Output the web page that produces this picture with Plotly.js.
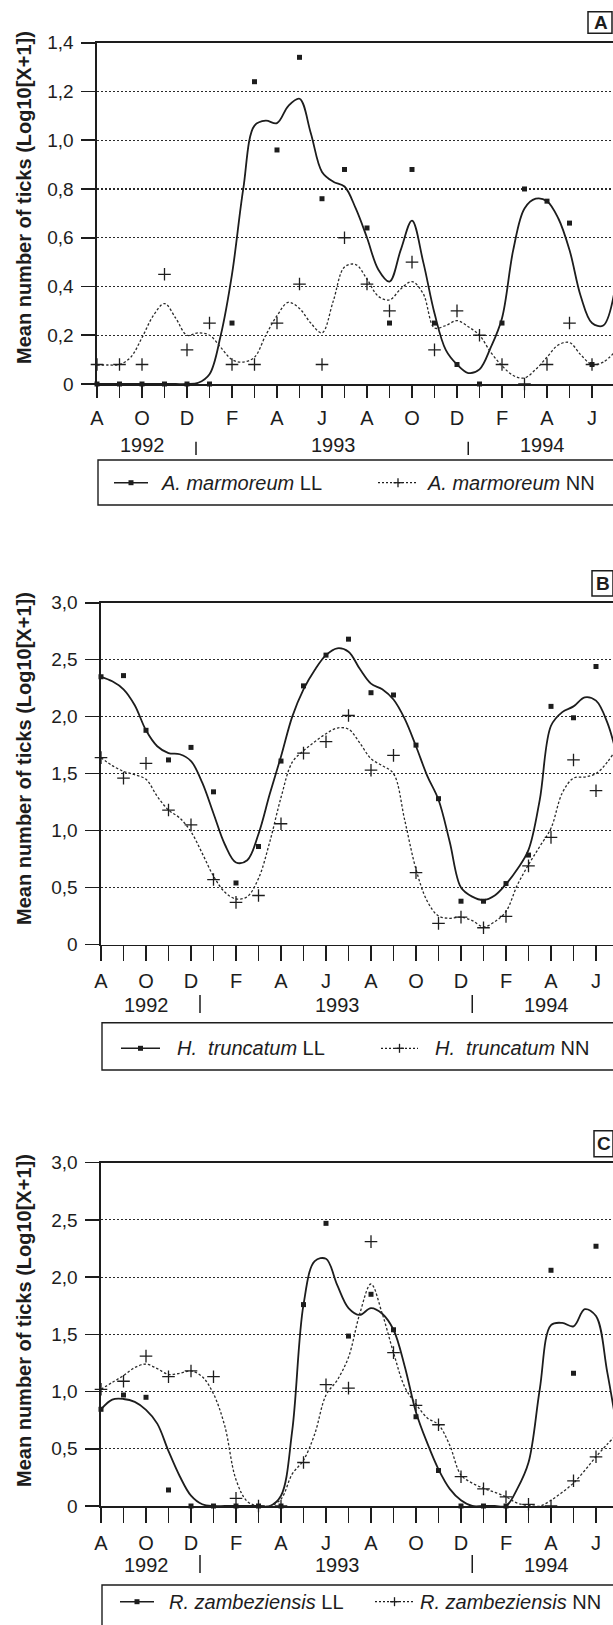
<!DOCTYPE html>
<html><head><meta charset="utf-8">
<script src="https://cdn.plot.ly/plotly-3.0.1.min.js"></script>
<style>html,body{margin:0;padding:0;background:#fff;overflow:hidden}#chart{width:613px;height:1625px}</style>
</head><body><div id="chart"></div>
<script>
// ---------- data ----------
const monthTickLabels = ['A','','O','','D','','F','','A','','J','','A','','O','','D','','F','','A','','J',''];
const sampleMonths = [0,1,2,3,4,5,6,7,8,9,10,11,12,13,14,15,16,17,18,19,20,21,22]; // Aug 1992 .. Jun 1994
const yearLabels = ['1992','1993','1994'];
const yearLabelMonths = [2, 10.5, 19.8];
const yearBreakMonths = [4.4, 16.5];

// A. marmoreum
const A_LL = [0,0,0,0,0,0,0.25,1.24,0.96,1.34,0.76,0.88,0.64,0.25,0.88,0.25,0.08,0,0.25,0.80,0.75,0.66,0.08];
const A_NN = [0.08,0.08,0.08,0.45,0.14,0.25,0.08,0.08,0.25,0.41,0.08,0.60,0.41,0.30,0.50,0.14,0.30,0.20,0.08,0,0.08,0.25,0.08];
// smoothed curves read every half month (0 .. 23)
const A_LL_curve = [0,0,0,0,0,0,0,0,0,0.005,0.04,0.2,0.45,0.8,1.06,1.08,1.07,1.14,1.17,1.03,0.87,0.83,0.81,0.72,0.6,0.47,0.42,0.55,0.67,0.5,0.29,0.14,0.08,0.045,0.06,0.15,0.27,0.55,0.72,0.76,0.75,0.68,0.55,0.36,0.25,0.24,0.38];
const A_NN_curve = [0.078,0.078,0.08,0.11,0.19,0.28,0.33,0.27,0.2,0.21,0.2,0.15,0.1,0.09,0.11,0.2,0.28,0.335,0.31,0.25,0.21,0.34,0.48,0.49,0.43,0.36,0.345,0.39,0.42,0.37,0.23,0.24,0.26,0.235,0.2,0.13,0.075,0.035,0.025,0.06,0.11,0.16,0.17,0.12,0.08,0.09,0.13];

// H. truncatum
const B_LL = [2.35,2.36,1.88,1.62,1.73,1.34,0.54,0.86,1.61,2.27,2.54,2.68,2.21,2.19,1.75,1.28,0.38,0.38,0.535,0.785,2.09,1.99,2.44];
const B_NN = [1.64,1.46,1.59,1.18,1.05,0.57,0.37,0.43,1.06,1.68,1.78,2.01,1.53,1.66,0.63,0.185,0.24,0.147,0.247,0.69,0.94,1.62,1.35];
const B_LL_curve = [2.35,2.31,2.24,2.1,1.88,1.74,1.68,1.67,1.61,1.42,1.15,0.88,0.72,0.74,0.97,1.32,1.65,2.0,2.24,2.41,2.54,2.6,2.57,2.42,2.29,2.24,2.15,1.98,1.74,1.48,1.27,0.9,0.5,0.42,0.39,0.43,0.53,0.66,0.83,1.27,1.92,2.04,2.09,2.17,2.14,1.95,1.6];
const B_NN_curve = [1.64,1.57,1.52,1.49,1.45,1.3,1.18,1.11,0.99,0.8,0.6,0.46,0.4,0.42,0.58,0.9,1.29,1.6,1.7,1.78,1.85,1.9,1.89,1.77,1.63,1.57,1.5,1.09,0.66,0.38,0.25,0.23,0.24,0.21,0.155,0.2,0.29,0.52,0.7,0.86,1.02,1.33,1.46,1.47,1.5,1.6,1.75];

// R. zambeziensis
const C_LL = [0.845,0.97,0.95,0.14,0,0,0,0,0,1.76,2.47,1.485,1.85,1.54,0.78,0.31,0,0,0,null,2.06,1.16,2.27];
const C_NN = [1.02,1.09,1.31,1.13,1.18,1.13,0.067,0,0,0.38,1.06,1.03,2.31,1.34,0.88,0.71,0.256,0.15,0.08,0.015,0,0.22,0.43];
const C_LL_curve = [0.845,0.93,0.935,0.91,0.84,0.72,0.48,0.26,0.09,0.015,0,0,0,0,0,0,0.09,0.66,1.76,2.14,2.16,1.93,1.73,1.67,1.73,1.68,1.54,1.22,0.82,0.55,0.32,0.15,0.05,0,0,0,0,0.15,0.38,1.02,1.58,1.6,1.57,1.72,1.66,1.17,0.6];
const C_NN_curve = [1.02,1.08,1.14,1.21,1.24,1.2,1.15,1.16,1.18,1.13,0.98,0.7,0.23,0.04,0,0,0.06,0.28,0.4,0.63,0.97,1.1,1.3,1.68,1.94,1.68,1.34,1.04,0.89,0.77,0.71,0.53,0.27,0.2,0.155,0.12,0.08,0.025,0.005,0,0.05,0.12,0.2,0.31,0.43,0.54,0.64];

const ticksA = [0,0.2,0.4,0.6,0.8,1.0,1.2,1.4];
const ticksA_text = ['0','0,2','0,4','0,6','0,8','1,0','1,2','1,4'];
const ticksBC = [0,0.5,1.0,1.5,2.0,2.5,3.0];
const ticksBC_text = ['0','0,5','1,0','1,5','2,0','2,5','3,0'];

const yTitle = 'Mean number of ticks (Log10[X+1])';

// ---------- layout helpers ----------
const W = 613, H = 1625;
const px = v => v / W;
const py = v => 1 - v / H;
const FONT = '"Liberation Sans", Arial, Helvetica, sans-serif';
const INK = '#1d1d1d';
const MONTH_PX = 22.5;
const halfMonths = A_LL_curve.map((_, i) => i / 2);

const panels = [
  {letter:'A', sfx:'', left:97, top:42.7, zero:384, ymax:1.4, tv:ticksA, tt:ticksA_text,
   ll:A_LL, nn:A_NN, llc:A_LL_curve, nnc:A_NN_curve, xlen:12,
   yearY:445.4, sep:[441.7,455], leg:[460,505], legY:482.7, llS:[114,148], llT:159, nnS:[378,418], nnT:425,
   box:[588,612,11.7,33.3], species:'A. marmoreum', titleY:198},
  {letter:'B', sfx:'2', left:101, top:602.7, zero:944.5, ymax:3, tv:ticksBC, tt:ticksBC_text,
   ll:B_LL, nn:B_NN, llc:B_LL_curve, nnc:B_NN_curve, xlen:15,
   yearY:1004.5, sep:[995,1013], leg:[1022.7,1070], legY:1048.3, llS:[121,160], llT:175, nnS:[381,418], nnT:433,
   box:[592,613,570.7,596], species:'H.\u00a0 truncatum', titleY:759},
  {letter:'C', sfx:'3', left:101, top:1162.7, zero:1506, ymax:3, tv:ticksBC, tt:ticksBC_text,
   ll:C_LL, nn:C_NN, llc:C_LL_curve, nnc:C_NN_curve, xlen:15,
   yearY:1565, sep:[1555,1573], leg:[1585,1650], legY:1601.7, llS:[120,154], llT:167, nnS:[375,414], nnT:418,
   box:[594,613,1130.7,1156.7], species:'R. zambeziensis', titleY:1321}
];

const traces = [];
const layout = {
  width: W, height: H, margin: {l:0, r:0, t:0, b:0},
  paper_bgcolor: '#fff', plot_bgcolor: 'rgba(0,0,0,0)',
  showlegend: false, font: {family: FONT, color: INK},
  shapes: [], annotations: []
};

panels.forEach(p => {
  const xa = 'x' + p.sfx, ya = 'y' + p.sfx;
  const xKey = 'xaxis' + p.sfx, yKey = 'yaxis' + p.sfx;
  layout[xKey] = {
    domain: [px(p.left), 1], anchor: ya,
    range: [0, (W - p.left) / MONTH_PX],
    tickmode: 'array', tickvals: monthTickLabels.map((_, i) => i), ticktext: monthTickLabels,
    ticks: 'outside', ticklen: p.xlen, tickwidth: 1.6, tickcolor: INK,
    showline: true, linecolor: INK, linewidth: 1.6, mirror: true,
    showgrid: false, zeroline: false, layer: 'below traces',
    tickfont: {family: FONT, size: 20, color: INK}, ticklabelstandoff: 3, fixedrange: true
  };
  layout[yKey] = {
    domain: [py(p.zero), py(p.top)], anchor: xa,
    range: [0, p.ymax],
    tickmode: 'array', tickvals: p.tv, ticktext: p.tt,
    ticks: 'outside', ticklen: 14, tickwidth: 1.6, tickcolor: INK,
    showline: true, linecolor: INK, linewidth: 1.6,
    showgrid: true, gridcolor: '#2a2a2a', gridwidth: 1.1, griddash: '2px,2px',
    zeroline: false, layer: 'below traces',
    tickfont: {family: FONT, size: 19, color: INK}, ticklabelstandoff: 4, fixedrange: true
  };

  traces.push({x: halfMonths, y: p.llc, xaxis: xa, yaxis: ya, mode: 'lines', hoverinfo: 'skip',
    line: {shape: 'spline', smoothing: 1, color: INK, width: 1.8}});
  traces.push({x: halfMonths, y: p.nnc, xaxis: xa, yaxis: ya, mode: 'lines', hoverinfo: 'skip',
    line: {shape: 'spline', smoothing: 1, color: '#2b2b2b', width: 1.3, dash: '2.5px,2px'}});
  traces.push({x: sampleMonths, y: p.ll, xaxis: xa, yaxis: ya, mode: 'markers', cliponaxis: false,
    marker: {symbol: 'square', size: 5, color: INK}});
  traces.push({x: sampleMonths, y: p.nn, xaxis: xa, yaxis: ya, mode: 'markers', cliponaxis: false,
    marker: {symbol: 'cross-thin', size: 9, color: INK, line: {width: 1.3, color: INK}}});

  // years row
  yearLabels.forEach((t, i) => layout.annotations.push({
    text: t, x: yearLabelMonths[i], xref: xa, y: py(p.yearY), yref: 'paper',
    xanchor: 'center', yanchor: 'middle', showarrow: false,
    font: {family: FONT, size: 20, color: INK}}));
  yearBreakMonths.forEach(m => layout.shapes.push({type: 'line', xref: xa, yref: 'paper',
    x0: m, x1: m, y0: py(p.sep[0]), y1: py(p.sep[1]), line: {color: INK, width: 1.5}}));

  // panel letter box
  layout.shapes.push({type: 'rect', xref: 'paper', yref: 'paper',
    x0: px(p.box[0]), x1: px(p.box[1]), y0: py(p.box[3]), y1: py(p.box[2]),
    line: {color: INK, width: 1.5}, fillcolor: 'rgba(0,0,0,0)'});
  layout.annotations.push({text: '<b>' + p.letter + '</b>', xref: 'paper', yref: 'paper',
    x: px((p.box[0] + p.box[1]) / 2 + 0.5), y: py((p.box[2] + p.box[3]) / 2), xanchor: 'center', yanchor: 'middle',
    showarrow: false, font: {family: FONT, size: 19, color: INK}});

  // legend box
  layout.shapes.push({type: 'rect', xref: 'paper', yref: 'paper',
    x0: px(p.left + 1), x1: px(W + 30), y0: py(p.leg[1]), y1: py(p.leg[0]),
    line: {color: INK, width: 1.4}, fillcolor: 'rgba(0,0,0,0)'});
  const ly = py(p.legY);
  layout.shapes.push({type: 'line', xref: 'paper', yref: 'paper', x0: px(p.llS[0]), x1: px(p.llS[1]), y0: ly, y1: ly,
    line: {color: INK, width: 1.6}});
  const llm = (p.llS[0] + p.llS[1]) / 2;
  layout.shapes.push({type: 'rect', xref: 'paper', yref: 'paper', x0: px(llm - 2.5), x1: px(llm + 2.5),
    y0: py(p.legY + 2.5), y1: py(p.legY - 2.5), line: {width: 0}, fillcolor: INK});
  layout.shapes.push({type: 'line', xref: 'paper', yref: 'paper', x0: px(p.nnS[0]), x1: px(p.nnS[1]), y0: ly, y1: ly,
    line: {color: INK, width: 1.3, dash: '2px,2px'}});
  const nnm = (p.nnS[0] + p.nnS[1]) / 2;
  layout.shapes.push({type: 'line', xref: 'paper', yref: 'paper', x0: px(nnm - 4.5), x1: px(nnm + 4.5), y0: ly, y1: ly,
    line: {color: INK, width: 1.3}});
  layout.shapes.push({type: 'line', xref: 'paper', yref: 'paper', x0: px(nnm), x1: px(nnm), y0: py(p.legY - 4.5), y1: py(p.legY + 4.5),
    line: {color: INK, width: 1.3}});
  layout.annotations.push({text: '<i>' + p.species + '</i> LL', xref: 'paper', yref: 'paper',
    x: px(p.llT), y: ly, xanchor: 'left', yanchor: 'middle', showarrow: false,
    font: {family: FONT, size: 20, color: INK}});
  layout.annotations.push({text: '<i>' + p.species + '</i> NN', xref: 'paper', yref: 'paper',
    x: px(p.nnT), y: ly, xanchor: 'left', yanchor: 'middle', showarrow: false,
    font: {family: FONT, size: 20, color: INK}});

  // y-axis title
  layout.annotations.push({text: '<b>' + yTitle + '</b>', xref: 'paper', yref: 'paper',
    x: px(24), y: py(p.titleY), xanchor: 'center', yanchor: 'middle', textangle: -90, showarrow: false,
    font: {family: FONT, size: 20, color: INK}});
});

Plotly.newPlot('chart', traces, layout, {staticPlot: true, displayModeBar: false});
</script></body></html>
